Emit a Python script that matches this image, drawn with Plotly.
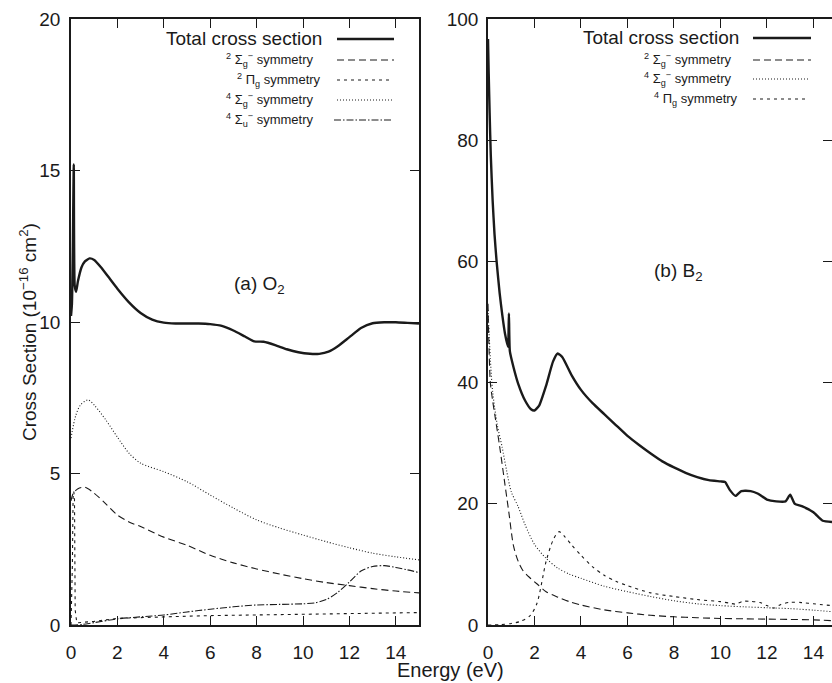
import plotly.graph_objects as go

# ---------------- data: (a) O2 ----------------
o2_total_E = [0, 0.04, 0.08, 0.12, 0.16, 0.22, 0.3, 0.45, 0.6, 0.8, 1.0, 1.3, 1.6, 2.0, 2.5, 3.0, 3.5, 4.0, 4.5,
              5.0, 5.5, 6.0, 6.5, 7.0, 7.5, 7.9, 8.3, 8.8, 9.3, 9.8, 10.3, 10.7, 11.1, 11.5, 12.0, 12.5, 13.0,
              13.5, 14.0, 14.5, 15.0]
o2_total = [10.2, 10.6, 12.5, 15.2, 11.2, 11.0, 11.35, 11.8, 12.0, 12.1, 12.05, 11.8, 11.5, 11.1, 10.65, 10.3,
            10.08, 9.98, 9.95, 9.95, 9.95, 9.93, 9.87, 9.72, 9.52, 9.36, 9.35, 9.24, 9.1, 9.0, 8.95, 8.95, 9.02,
            9.2, 9.5, 9.8, 9.96, 9.99, 9.99, 9.97, 9.95]

o2_sg2_E = [0, 0.1, 0.3, 0.6, 1.0, 1.5, 2.0, 2.5, 3.0, 4.0, 5.0, 6.0, 7.0, 8.0, 9.0, 10.0, 11.0, 12.0, 13.0, 14.0, 15.0]
o2_sg2 = [4.1, 4.35, 4.5, 4.55, 4.35, 4.0, 3.63, 3.4, 3.25, 2.9, 2.63, 2.3, 2.05, 1.85, 1.68, 1.53, 1.4, 1.3,
          1.2, 1.12, 1.06]

o2_pig2_E = [0, 0.06, 0.09, 0.12, 0.15, 0.18, 0.25, 0.5, 1.0, 2.0, 3.0, 4.0, 5.0, 6.0, 7.0, 8.0, 9.0, 10.0, 11.0,
             12.0, 13.0, 14.0, 15.0]
o2_pig2 = [0.0, 2.0, 4.2, 4.4, 4.2, 0.5, 0.07, 0.08, 0.12, 0.22, 0.25, 0.27, 0.29, 0.31, 0.32, 0.33, 0.35, 0.36,
           0.37, 0.39, 0.4, 0.41, 0.41]

o2_sg4_E = [0, 0.2, 0.4, 0.73, 1.0, 1.5, 2.0, 2.5, 3.0, 4.0, 5.0, 6.0, 7.0, 8.0, 9.0, 10.0, 11.0, 12.0, 13.0,
            14.0, 15.0]
o2_sg4 = [6.17, 6.9, 7.25, 7.43, 7.26, 6.77, 6.2, 5.67, 5.34, 5.06, 4.73, 4.29, 3.86, 3.47, 3.2, 2.97, 2.75,
          2.55, 2.37, 2.25, 2.15]

o2_su4_E = [0, 0.5, 1.0, 2.0, 3.0, 4.0, 5.0, 6.0, 7.0, 8.0, 9.0, 10.0, 10.5, 11.0, 11.5, 12.0, 12.5, 13.0, 13.5,
            14.0, 14.5, 15.0]
o2_su4 = [0.0, 0.02, 0.08, 0.2, 0.27, 0.33, 0.43, 0.52, 0.6, 0.66, 0.68, 0.7, 0.73, 0.84, 1.08, 1.42, 1.78,
          1.93, 1.96, 1.9, 1.82, 1.73]

# ---------------- data: (b) B2 ----------------
b2_total_E = [0, 0.03, 0.07, 0.12, 0.2, 0.28, 0.37, 0.5, 0.62, 0.73, 0.86, 0.9, 0.94, 1.1, 1.3, 1.6, 1.85, 2.0,
              2.2, 2.5, 2.8, 3.0, 3.2, 3.6, 4.0, 4.5, 5.0, 5.5, 6.0, 6.5, 7.0, 7.5, 8.0, 8.5, 9.0, 9.5, 10.0,
              10.2, 10.4, 10.65, 10.9, 11.3, 11.6, 12.0, 12.4, 12.8, 13.0, 13.2, 13.5, 14.0, 14.4, 14.8]
b2_total = [96.7, 91.0, 84.5, 77.5, 70.0, 64.5, 60.0, 54.8, 51.0, 48.1, 45.9, 51.4, 45.2, 42.5, 39.8, 37.0, 35.6,
            35.4, 36.2, 39.5, 43.5, 44.8, 44.2, 41.2, 38.8, 36.6, 34.8, 33.0, 31.2, 29.7, 28.3, 27.0, 26.0, 25.1,
            24.4, 23.9, 23.7, 23.6, 22.3, 21.3, 22.1, 22.1, 21.7, 20.7, 20.4, 20.4, 21.5, 20.0, 19.6, 18.6, 17.2,
            17.0]

b2_sg2_E = [0, 0.05, 0.1, 0.2, 0.3, 0.5, 0.7, 0.9, 1.1, 1.3, 1.5, 1.8, 2.1, 2.5, 3.0, 3.5, 4.0, 5.0, 6.0, 7.0,
            8.0, 9.0, 10.0, 11.0, 12.0, 13.0, 14.0, 14.8]
b2_sg2 = [53.0, 45.0, 40.0, 37.0, 34.5, 29.5, 24.0, 18.5, 13.0, 10.5, 9.0, 7.8, 6.8, 5.5, 4.6, 3.85, 3.3, 2.5,
          2.0, 1.6, 1.35, 1.2, 1.08, 1.02, 0.97, 0.92, 0.85, 0.72]

b2_sg4_E = [0, 0.1, 0.2, 0.4, 0.6, 0.8, 1.0, 1.3, 1.6, 2.0, 2.5, 3.0, 3.5, 4.0, 5.0, 6.0, 7.0, 8.0, 9.0, 10.0,
            11.0, 12.0, 13.0, 14.0, 14.8]
b2_sg4 = [52.0, 44.0, 38.5, 33.0, 29.5, 25.5, 22.0, 19.5, 16.5, 13.3, 11.0, 9.4, 8.4, 7.7, 6.4, 5.5, 4.7, 4.0,
          3.5, 3.2, 3.0, 2.85, 2.7, 2.45, 2.2]

b2_pig4_E = [0, 0.5, 1.0, 1.4, 1.8, 2.1, 2.5, 2.8, 3.05, 3.3, 3.6, 4.0, 4.5, 5.0, 5.5, 6.0, 7.0, 8.0, 9.0, 10.0,
             10.4, 10.65, 10.95, 11.3, 11.7, 12.0, 12.3, 12.6, 13.0, 13.5, 14.0, 14.8]
b2_pig4 = [0.0, 0.05, 0.25, 0.6, 1.5, 3.5, 10.5, 14.0, 15.4, 14.6, 13.2, 11.5, 9.6, 8.2, 7.2, 6.5, 5.3, 4.7, 4.2,
           3.85, 3.6, 3.45, 3.9, 3.9, 3.7, 3.2, 2.8, 3.4, 3.75, 3.7, 3.5, 3.2]

x_ticks = [0, 2, 4, 6, 8, 10, 12, 14]
o2_y_ticks = [0, 5, 10, 15, 20]
b2_y_ticks = [0, 20, 40, 60, 80, 100]

# ---------------- layout helpers ----------------
W, H = 832, 683
ML, MR, MT, MB = 71, 0, 19, 58
PW, PH = W - ML - MR, H - MT - MB


def px(x):
    return (x - ML) / PW


def py(y):
    return (H - MB - y) / PH


FONT = "Liberation Sans, Arial, Helvetica, sans-serif"
INK = "#1a1a1a"
THIN = 1.1

DASH_SG2 = "7px,4px"
DASH_PI = "3px,4px"
DASH_DOT = "1px,2px"
DASH_DD = "7px,2px,1.5px,2px"

fig = go.Figure()


def add(xs, ys, dash, width, xa, ya, shape="spline", smoothing=0.8):
    line = dict(color=INK, width=width, dash=dash, shape=shape)
    if shape == "spline":
        line["smoothing"] = smoothing
    fig.add_trace(go.Scatter(x=xs, y=ys, mode="lines", xaxis=xa, yaxis=ya, showlegend=False,
                             line=line, hoverinfo="skip"))


# O2 panel
add(o2_pig2_E, o2_pig2, DASH_PI, THIN, "x", "y", "linear")
add(o2_su4_E, o2_su4, DASH_DD, THIN, "x", "y")
add(o2_sg4_E, o2_sg4, DASH_DOT, THIN, "x", "y")
add(o2_sg2_E, o2_sg2, DASH_SG2, THIN, "x", "y")
add(o2_total_E, o2_total, "solid", 2.4, "x", "y", "spline", 0.5)

# B2 panel
add(b2_pig4_E, b2_pig4, DASH_PI, THIN, "x2", "y2")
add(b2_sg4_E, b2_sg4, DASH_DOT, THIN, "x2", "y2")
add(b2_sg2_E, b2_sg2, DASH_SG2, THIN, "x2", "y2")
add(b2_total_E, b2_total, "solid", 2.4, "x2", "y2", "spline", 0.5)

axis_common = dict(showline=True, linecolor=INK, linewidth=1.5, mirror="ticks", ticks="inside",
                   ticklen=9, tickwidth=1.2, tickcolor=INK, showgrid=False, zeroline=False,
                   tickfont=dict(family=FONT, size=19, color=INK))

fig.update_layout(
    width=W, height=H, margin=dict(l=ML, r=MR, t=MT, b=MB, autoexpand=False),
    paper_bgcolor="white", plot_bgcolor="white",
    font=dict(family=FONT, color=INK),
    xaxis=dict(domain=[0, px(419)], range=[0, 15], tickvals=x_ticks, ticklabelstandoff=9, **axis_common),
    yaxis=dict(domain=[0, 1], range=[0, 20], tickvals=o2_y_ticks, ticklabelstandoff=5, **axis_common),
    xaxis2=dict(domain=[px(488), 1], range=[0, 14.8], tickvals=x_ticks, anchor="y2", ticklabelstandoff=9,
                **axis_common),
    yaxis2=dict(domain=[0, 1], range=[0, 100], tickvals=b2_y_ticks, anchor="x2", ticklabelstandoff=4,
                **axis_common),
)

ann = []
# axis titles
ann.append(dict(text="Cross Section (10<sup>\u221216</sup> cm<sup>2</sup>)", x=px(28), y=py(332),
                xref="paper", yref="paper", textangle=-90, showarrow=False,
                font=dict(size=19, family=FONT, color=INK), xanchor="center", yanchor="middle"))
ann.append(dict(text="Energy (eV)", x=px(450), y=py(670), xref="paper", yref="paper", showarrow=False,
                font=dict(size=20, family=FONT, color=INK), xanchor="center", yanchor="middle"))
# panel labels
ann.append(dict(text="(a) O<sub>2</sub>", x=px(259), y=py(285), xref="paper", yref="paper", showarrow=False,
                font=dict(size=19, family=FONT, color=INK), xanchor="center", yanchor="middle"))
ann.append(dict(text="(b) B<sub>2</sub>", x=px(678), y=py(272), xref="paper", yref="paper", showarrow=False,
                font=dict(size=19, family=FONT, color=INK), xanchor="center", yanchor="middle"))

shapes = []


def legend_entry(label, size, xr, yc, x0, x1, dash, width):
    ann.append(dict(text=label, x=px(xr), y=py(yc), xref="paper", yref="paper", showarrow=False,
                    font=dict(size=size, family=FONT, color=INK), xanchor="right", yanchor="middle"))
    shapes.append(dict(type="line", xref="paper", yref="paper", x0=px(x0), x1=px(x1), y0=py(yc), y1=py(yc),
                       line=dict(color=INK, width=width, dash=dash)))


SG = "\u03a3"
PI = "\u03a0"
MINUS = "\u2212"
# left legend
legend_entry("Total cross section", 19, 324, 39, 337, 394, "solid", 2.4)
legend_entry(f"<sup>2</sup> {SG}<sub>g</sub><sup>{MINUS}</sup> symmetry", 13, 316, 60, 337, 394, DASH_SG2, THIN)
legend_entry(f"<sup>2</sup> {PI}<sub>g</sub> symmetry", 13, 323, 80, 337, 390, DASH_PI, THIN)
legend_entry(f"<sup>4</sup> {SG}<sub>g</sub><sup>{MINUS}</sup> symmetry", 13, 316, 100, 337, 392, DASH_DOT, THIN)
legend_entry(f"<sup>4</sup> {SG}<sub>u</sub><sup>{MINUS}</sup> symmetry", 13, 316, 120, 334, 392, DASH_DD, THIN)
# right legend
legend_entry("Total cross section", 19, 741, 38, 753, 811, "solid", 2.4)
legend_entry(f"<sup>2</sup> {SG}<sub>g</sub><sup>{MINUS}</sup> symmetry", 13, 734, 60, 753, 811, DASH_SG2, THIN)
legend_entry(f"<sup>4</sup> {SG}<sub>g</sub><sup>{MINUS}</sup> symmetry", 13, 734, 79, 753, 810, DASH_DOT, THIN)
legend_entry(f"<sup>4</sup> {PI}<sub>g</sub> symmetry", 13, 740, 99, 753, 805, DASH_PI, THIN)

fig.update_layout(annotations=ann, shapes=shapes)
fig.write_html("out.html", config={"displayModeBar": False},
               post_script="document.body.style.margin='0px';document.body.style.overflow='hidden';")
